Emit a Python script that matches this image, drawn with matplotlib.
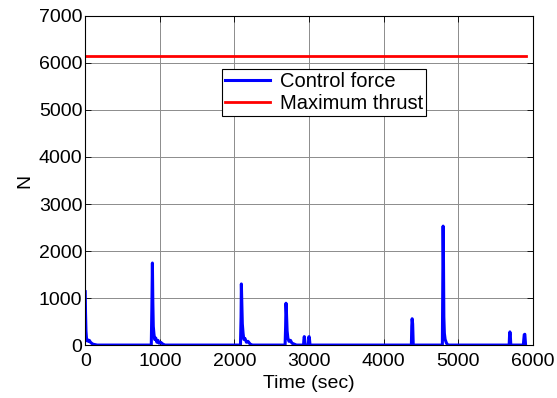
import matplotlib
matplotlib.use("Agg")
import matplotlib.pyplot as plt

# Control force time history (sec, N)
time = [0, 4, 10, 18, 25, 35, 45, 55, 70, 85, 100, 130, 160,
        885, 893, 900, 906, 912, 920, 930, 945, 960, 975, 990, 1010, 1040, 1070,
        2080, 2088, 2092, 2098, 2105, 2115, 2125, 2140, 2160, 2180, 2210, 2240,
        2678, 2685, 2690, 2696, 2705, 2715, 2730, 2750, 2770, 2800, 2830,
        2925, 2930, 2935, 2940, 2948, 2990, 2995, 3000, 3005, 3012,
        4370, 4375, 4380, 4387, 4395,
        4785, 4790, 4795, 4800, 4805, 4812, 4822, 4840, 4860,
        5680, 5685, 5690, 5695, 5702,
        5870, 5876, 5882, 5890, 5900]
force = [1135, 700, 300, 120, 90, 110, 80, 100, 60, 40, 20, 10, 0,
         0, 800, 1745, 900, 400, 250, 120, 150, 60, 100, 40, 60, 20, 0,
         0, 600, 1300, 900, 450, 250, 120, 140, 60, 80, 20, 0,
         0, 400, 890, 700, 300, 150, 80, 100, 40, 20, 0,
         0, 120, 180, 120, 0, 0, 170, 180, 120, 0,
         0, 400, 560, 450, 0,
         0, 1200, 2530, 1800, 600, 250, 120, 40, 0,
         0, 200, 280, 220, 0,
         0, 120, 220, 230, 0]
max_thrust = 6150
t_range = [0, 5900]

x_ticks = [0, 1000, 2000, 3000, 4000, 5000, 6000]
y_ticks = [0, 1000, 2000, 3000, 4000, 5000, 6000, 7000]

plt.rcParams['font.family'] = ['Liberation Sans', 'DejaVu Sans']
fig = plt.figure(figsize=(5.57, 3.98), dpi=100)
ax = fig.add_axes([0.153, 0.133, 0.804, 0.827])

ax.plot(time, force, color='#0000ff', lw=2.2, label='Control force')
ax.plot(t_range, [max_thrust, max_thrust], color='#ff0000', lw=2.0, label='Maximum thrust')

ax.set_xlim(0, 6000)
ax.set_ylim(0, 7000)
ax.set_xticks(x_ticks)
ax.set_yticks(y_ticks)
ax.tick_params(direction='in', labelsize=14, length=4, width=0.6, top=True, right=True, pad=2)
ax.tick_params(axis='x', pad=6)
ax.grid(True, color='#8c8c8c', lw=0.7)
ax.set_axisbelow(True)
for s in ax.spines.values():
    s.set_linewidth(0.8)
ax.set_xlabel('Time (sec)', fontsize=14, labelpad=3)
ax.set_ylabel('N', fontsize=14, labelpad=4)

leg = ax.legend(loc='upper left', bbox_to_anchor=(0.306, 0.838), fontsize=14.5,
                frameon=True, fancybox=False, framealpha=1, edgecolor='black',
                handlelength=2.2, borderpad=0.15, labelspacing=0.15, handletextpad=0.5,
                borderaxespad=0)
leg.get_frame().set_linewidth(0.8)

fig.savefig('out.png', dpi=100)
